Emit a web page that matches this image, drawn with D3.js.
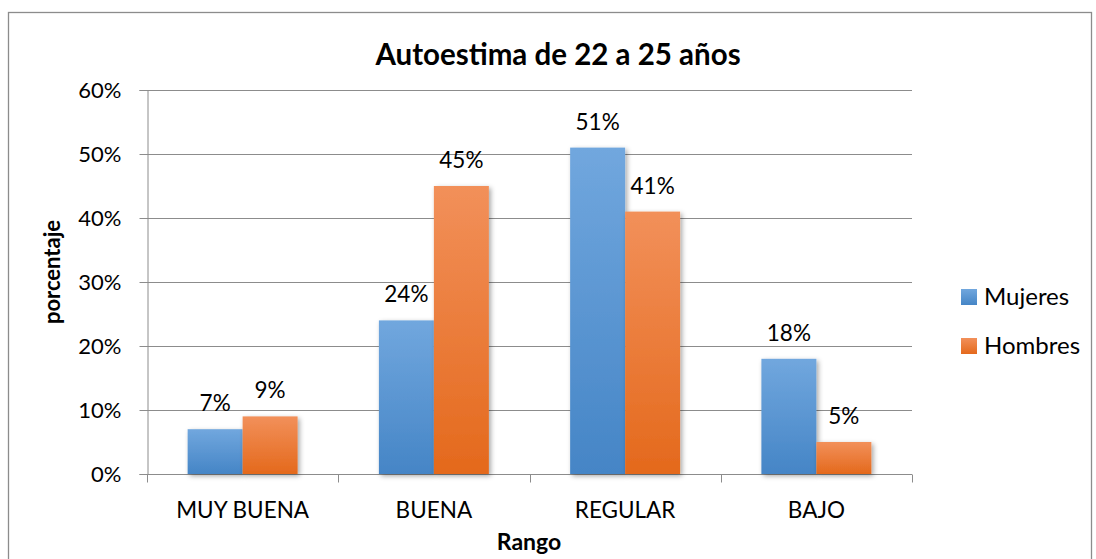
<!DOCTYPE html>
<html>
<head>
<meta charset="utf-8">
<script src="https://cdn.jsdelivr.net/npm/d3@7"></script>
<style>
  body { margin: 0; background: #fff; }
  svg { font-family: Lato, "Open Sans", sans-serif; }
</style>
</head>
<body>
<svg id="chart" width="1096" height="559"></svg>
<script>
"use strict";

// ---- data
const categories = ["MUY BUENA", "BUENA", "REGULAR", "BAJO"];
const series = ["Mujeres", "Hombres"];
const mujeres = [7, 24, 51, 18];
const hombres = [9, 45, 41, 5];
const yTicks = [0, 10, 20, 30, 40, 50, 60];

const svg = d3.select("#chart");
const M = {left: 147, top: 90, right: 912, bottom: 474};

// outer frame
svg.append("rect").attr("x", 8.5).attr("y", 12.5).attr("width", 1083).attr("height", 560)
  .attr("fill", "none").attr("stroke", "#8c8c8c").attr("stroke-width", 1.3);

const defs = svg.append("defs");
const grads = {Mujeres: ["#71a7de", "#4585c6"], Hombres: ["#f2905a", "#e4691c"]};
Object.entries(grads).forEach(([k, c]) => {
  const gr = defs.append("linearGradient").attr("id", "g" + k)
    .attr("x1", 0).attr("y1", 0).attr("x2", 0).attr("y2", 1);
  gr.append("stop").attr("offset", "0%").attr("stop-color", c[0]);
  gr.append("stop").attr("offset", "100%").attr("stop-color", c[1]);
});
const sh = defs.append("filter").attr("id", "shadow")
  .attr("x", "-20%").attr("y", "-20%").attr("width", "150%").attr("height", "140%");
sh.append("feDropShadow").attr("dx", 2).attr("dy", 2).attr("stdDeviation", 2.5)
  .attr("flood-color", "#000").attr("flood-opacity", 0.35);

// ---- scales
const x0 = d3.scaleBand().domain(categories).range([M.left, M.right]).paddingInner(0.425).paddingOuter(0.2125);
const x1 = d3.scaleBand().domain(series).range([0, x0.bandwidth()]);
const y = d3.scaleLinear().domain([0, 60]).range([M.bottom, M.top]);
const color = d3.scaleOrdinal().domain(series).range(["url(#gMujeres)", "url(#gHombres)"]);

// gridlines
svg.append("g").selectAll("line").data(yTicks.slice(1)).join("line")
  .attr("x1", M.left).attr("x2", M.right)
  .attr("y1", d => y(d) + 0.5).attr("y2", d => y(d) + 0.5)
  .attr("stroke", "#8c8c8c").attr("stroke-width", 1);

// y axis
const yAxis = svg.append("g").attr("transform", `translate(${M.left + 0.5},0)`)
  .call(d3.axisLeft(y).tickValues(yTicks).tickFormat(d => d + "%").tickSize(8).tickPadding(18));
yAxis.select(".domain").attr("stroke", "#8c8c8c");
yAxis.selectAll(".tick line").attr("stroke", "#8c8c8c");
yAxis.selectAll("text").attr("font-size", 22).attr("fill", "#000").attr("font-family", "Lato");

// x axis
const xAxis = svg.append("g").attr("transform", `translate(0,${M.bottom + 0.5})`);
xAxis.append("line").attr("x1", M.left).attr("x2", M.right).attr("stroke", "#8c8c8c");
const bounds = categories.map(c => x0(c) - x0.step() * x0.paddingInner() / 2).concat([M.right]);
xAxis.selectAll(".tk").data(bounds).join("line").attr("class", "tk")
  .attr("x1", d => Math.round(d) + 0.5).attr("x2", d => Math.round(d) + 0.5)
  .attr("y1", 0).attr("y2", 8).attr("stroke", "#8c8c8c");
xAxis.selectAll(".lbl").data(categories).join("text").attr("class", "lbl")
  .attr("x", d => x0(d) + x0.bandwidth() / 2).attr("y", 43)
  .attr("text-anchor", "middle").attr("font-size", 22.5).text(d => d);

// bars
const rows = categories.map((c, i) => ({cat: c, vals: [mujeres[i], hombres[i]]}));
const grp = svg.append("g").selectAll("g").data(rows).join("g")
  .attr("transform", d => `translate(${x0(d.cat)},0)`);
grp.selectAll("rect").data(d => d.vals.map((v, j) => ({s: series[j], v}))).join("rect")
  .attr("x", d => x1(d.s)).attr("width", x1.bandwidth())
  .attr("y", d => y(d.v)).attr("height", d => y(0) - y(d.v))
  .attr("fill", d => color(d.s)).attr("filter", "url(#shadow)");
grp.selectAll("text").data(d => d.vals.map((v, j) => ({s: series[j], v}))).join("text")
  .attr("x", d => x1(d.s) + x1.bandwidth() / 2).attr("y", d => y(d.v) - 18)
  .attr("text-anchor", "middle").attr("font-size", 22.5).text(d => d.v + "%");

// title + axis titles
svg.append("text").attr("x", 558).attr("y", 65).attr("text-anchor", "middle")
  .attr("font-size", 29.5).attr("font-weight", 700).text("Autoestima de 22 a 25 años");
svg.append("text").attr("transform", "translate(60,272) rotate(-90)")
  .attr("text-anchor", "middle").attr("font-size", 22).attr("font-weight", 700).text("porcentaje");
svg.append("text").attr("x", 529).attr("y", 550).attr("text-anchor", "middle")
  .attr("font-size", 23).attr("font-weight", 700).text("Rango");

// legend
const leg = svg.append("g").attr("transform", "translate(961,289)");
series.forEach((s, i) => {
  const row = leg.append("g").attr("transform", `translate(0,${i * 49})`);
  row.append("rect").attr("width", 16).attr("height", 16).attr("fill", color(s));
  row.append("text").attr("x", 23).attr("y", 16).attr("font-size", 24).text(s);
});
</script>
</body>
</html>
